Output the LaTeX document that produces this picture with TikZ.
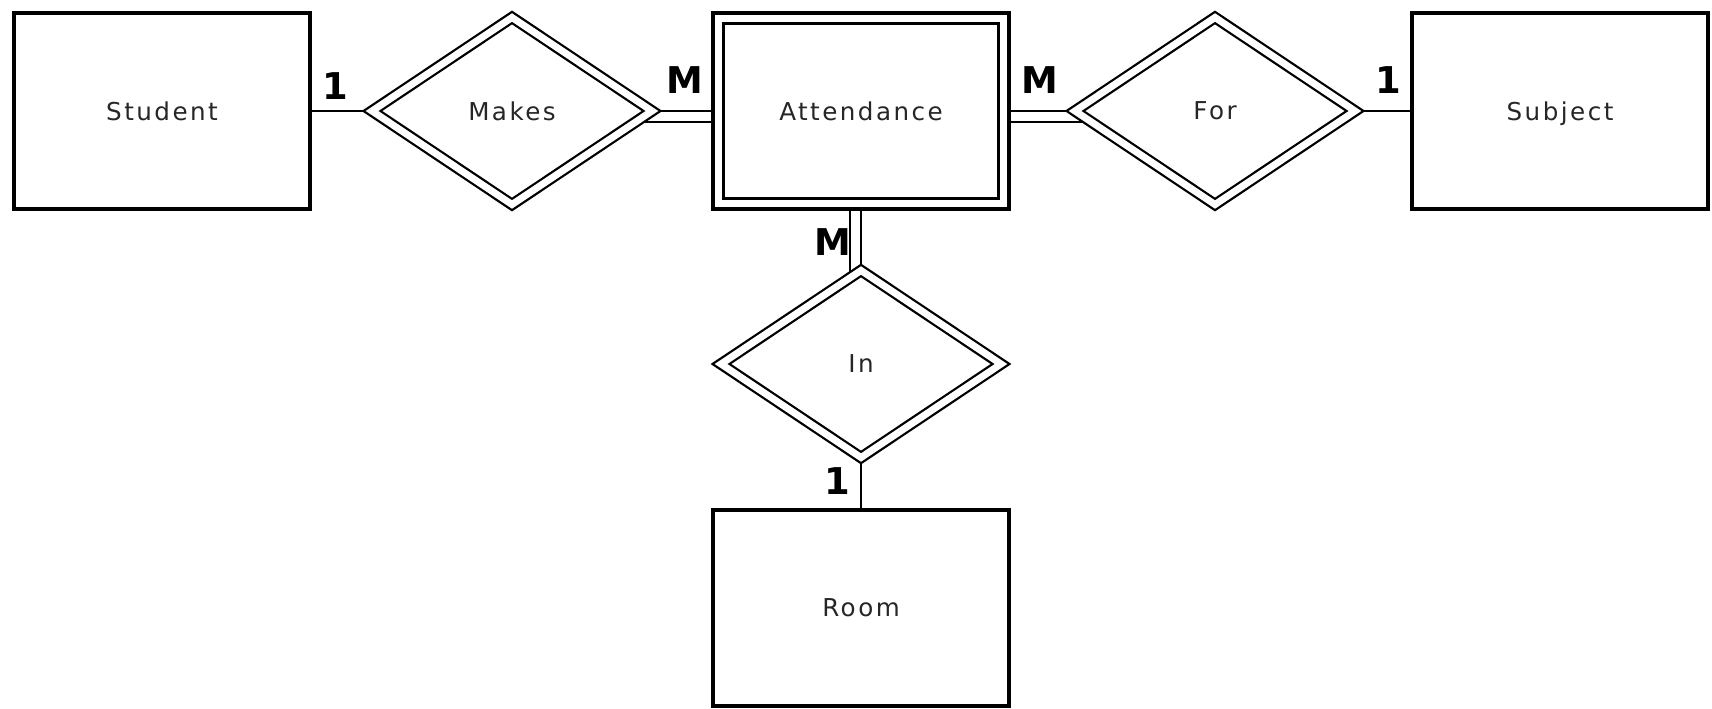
\documentclass[tikz,border=0pt]{standalone}
\usepackage{fontspec}
\setmainfont{DejaVu Sans}
\newfontfamily\erfont[LetterSpace=10]{DejaVu Sans}
\usetikzlibrary{shapes.geometric,backgrounds}

\begin{document}
\begin{tikzpicture}[entity/.style={draw,fill=white,line width=0.08cm,minimum width=5.92cm,minimum height=3.92cm,inner sep=0pt,text depth=0pt,text=black!85,font=\erfont\fontsize{14}{16}\selectfont},
	relation/.style={diamond,draw,fill=white,double,double distance=0.14cm,line width=0.045cm,minimum width=5.62cm,minimum height=3.76cm,inner sep=0pt,text depth=0pt,text=black!85,font=\erfont\fontsize{14}{16}\selectfont},
	card/.style={inner sep=0pt,font=\fontsize{21}{24}\selectfont\bfseries},
	single/.style={line width=0.055cm},
	total/.style={double,double distance=0.18cm,line width=0.04cm}]
		\useasboundingbox (0,0) rectangle (34.24,-14.18);
		% Entities
		\node[entity] (student) at (3.24,-2.22) {Student};
		\node[entity] (att) at (17.22,-2.22) {Attendance};
		\node[draw,line width=0.045cm,minimum width=5.5cm,minimum height=3.5cm] (attin) at (att.center) {};
		\node[entity] (subject) at (31.2,-2.22) {Subject};
		\node[entity] (room) at (17.22,-12.15) {Room};
		% Relationships
		\node[relation] (makes) at (10.24,-2.22) {Makes};
		\node[relation] (for) at (24.3,-2.22) {For};
		\node[relation] (in) at (17.22,-7.28) {In};
		% Connectors (behind the shapes)
		\begin{scope}[on background layer]
			% single lines
			\draw[single] (student.center) -- (makes.center);
			\draw[single] (for.center) -- (subject.center);
			\draw[single] (in.center) -- (room.center);
			% double lines
			\draw[total] ([yshift=-0.11cm]makes.center) -- ([yshift=-0.11cm]att.center);
			\draw[total] ([yshift=-0.11cm]att.center) -- ([yshift=-0.11cm]for.center);
			\draw[total] ([xshift=-0.11cm]att.center) -- ([xshift=-0.11cm]in.center);
		\end{scope}
		% Cardinalities
		\node[card] (c1) at (6.7,-1.72) {1};
		\node[card] (c2) at (13.7,-1.6) {M};
		\node[card] (c3) at (20.8,-1.6) {M};
		\node[card] (c4) at (27.76,-1.6) {1};
		\node[card] (c5) at (16.66,-4.84) {M};
		\node[card] (c6) at (16.74,-9.62) {1};
\end{tikzpicture}
\end{document}
